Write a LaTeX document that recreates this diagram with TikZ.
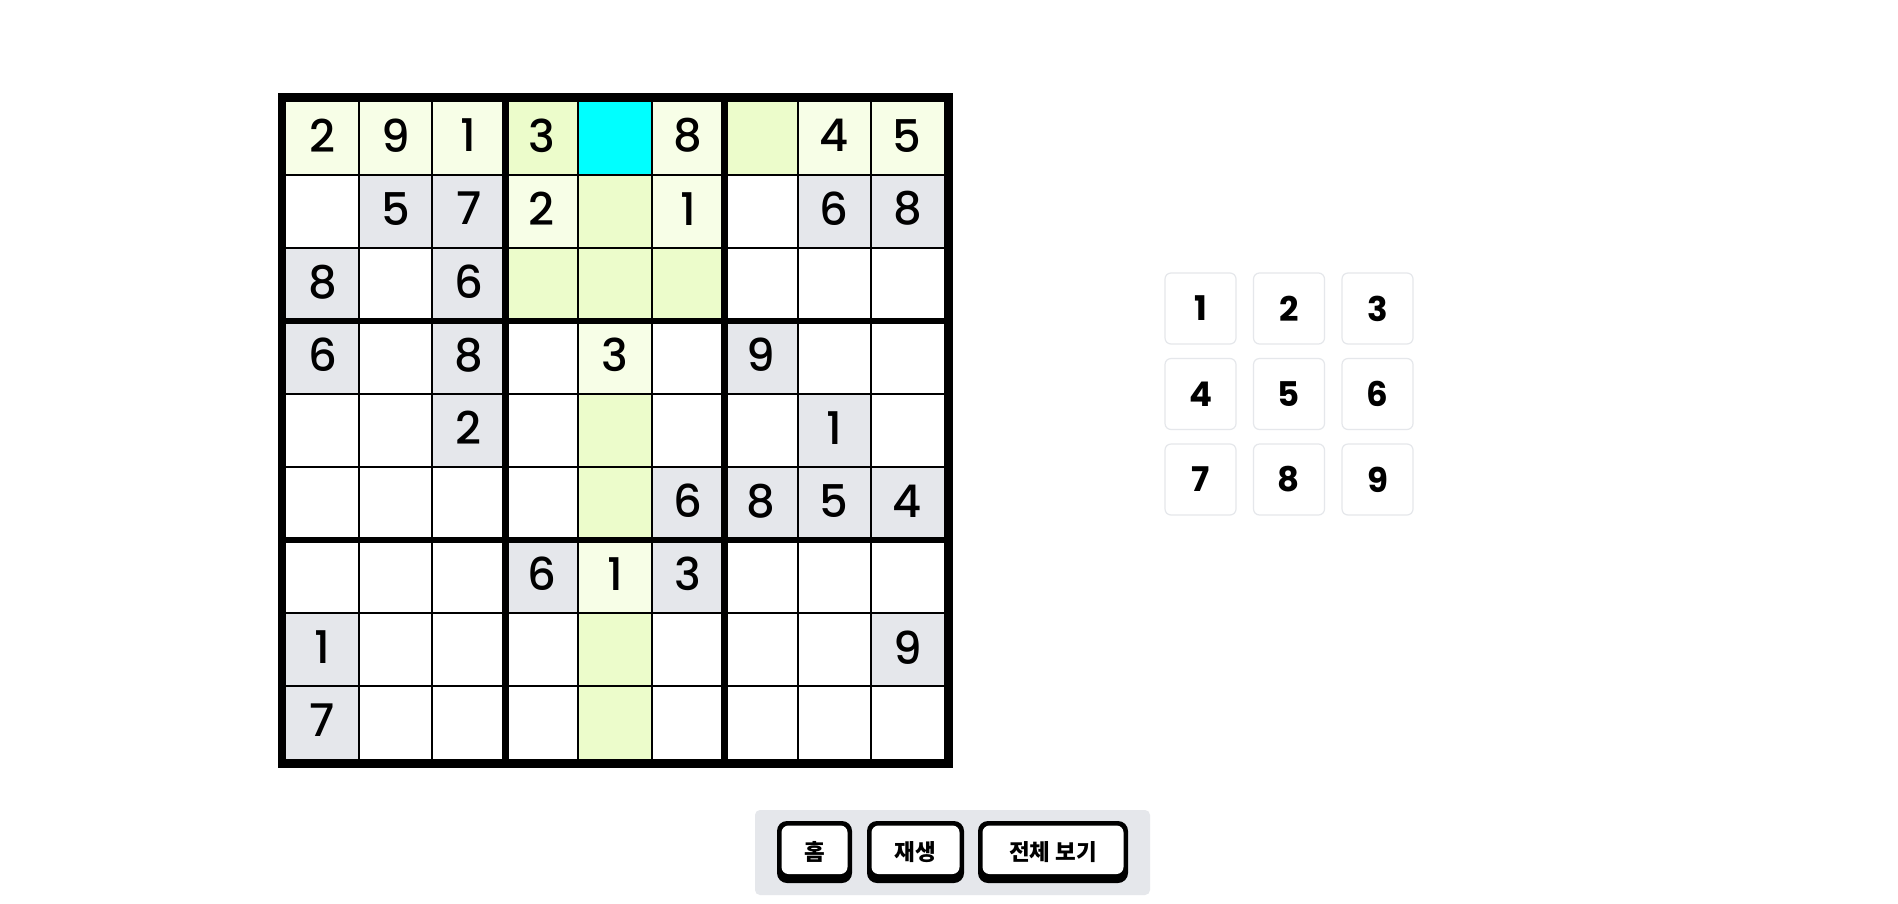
\documentclass[tikz,border=0pt]{standalone}
\usepackage{fontspec}
\setmainfont{Noto Sans CJK KR}
\newfontfamily\digitfont{Poppins Medium}
\newfontfamily\keyfont{Poppins Bold}
\definecolor{rowhl}{HTML}{F7FEE7}
\definecolor{emptyhl}{HTML}{ECFCCB}
\definecolor{given}{HTML}{E5E7EB}
\definecolor{selcell}{HTML}{00FFFF}
\tikzset{
  cellnum/.style={font=\digitfont\fontsize{45}{48}\selectfont, inner sep=0pt},
  padkey/.style={draw=given, line width=1.2pt, rounded corners=6pt, minimum size=71pt,
    inner sep=0pt, font=\keyfont\fontsize{34}{36}\selectfont},
  btnlabel/.style={font=\bfseries\fontsize{22.5}{26}\selectfont, inner sep=0pt}
}
\begin{document}
\begin{tikzpicture}[x=1pt,y=-1pt]
    \useasboundingbox (0,0) rectangle (1898,903);
    \fill[white] (0,0) rectangle (1898,903);
    \foreach \r/\c in {0/0,0/1,0/2,0/5,0/7,0/8,1/3,1/5,3/4,6/4}
    \fill[rowhl] ({286+73.1*\c},{101.5+73.1*\r}) rectangle ++(73.1,73.1);
    \foreach \r/\c in {0/3,0/6,1/4,2/3,2/4,2/5,4/4,5/4,7/4,8/4}
    \fill[emptyhl] ({286+73.1*\c},{101.5+73.1*\r}) rectangle ++(73.1,73.1);
    \foreach \r/\c in {1/1,1/2,1/7,1/8,2/0,2/2,3/0,3/2,3/6,4/2,4/7,5/5,5/6,5/7,5/8,6/3,6/5,7/0,7/8,8/0}
    \fill[given] ({286+73.1*\c},{101.5+73.1*\r}) rectangle ++(73.1,73.1);
    \fill[selcell] ({286+73.1*4},101.5) rectangle ++(73.1,73.1);
    \foreach \i in {1,2,4,5,7,8} {
      \draw[line width=2pt] ({286+73.1*\i},101.5)--({286+73.1*\i},759.4);
      \draw[line width=2pt] (286,{101.5+73.1*\i})--(944,{101.5+73.1*\i});
    }
    \foreach \i in {3,6} {
      \draw[line width=6.5pt] ({286+73.1*\i},101.5)--({286+73.1*\i},759.4);
      \draw[line width=6.5pt] (286,{101.5+73.1*\i})--(944,{101.5+73.1*\i});
    }
    \draw[line width=8.5pt] (282,97.25) rectangle (948.5,763.25);
    \foreach \r/\c/\d in {0/0/2,0/1/9,0/2/1,0/3/3,0/5/8,0/7/4,0/8/5,
      1/1/5,1/2/7,1/3/2,1/5/1,1/7/6,1/8/8,2/0/8,2/2/6,
      3/0/6,3/2/8,3/4/3,3/6/9,4/2/2,4/7/1,5/5/6,5/6/8,5/7/5,5/8/4,
      6/3/6,6/4/1,6/5/3,7/0/1,7/8/9,8/0/7}
    \node[cellnum] (n\r\c) at ({286+73.1*(\c+0.5)},{101.5+73.1*(\r+0.5)-2.5}) {\d};
    \foreach \row in {0,1,2}
    \foreach \col in {0,1,2} {
      \pgfmathtruncatemacro\k{3*\row+\col+1}
      \node[padkey] (key\k) at ({1200.5+88.5*\col},{308.5+85.5*\row}) {\k};
    }
    \fill[given, rounded corners=5pt] (755,810) rectangle (1150,895);
    \foreach \l/\rr/\name/\txt in {777/852/home/홈,867/964/replay/재생,978/1128/viewall/전체 보기} {
      \fill[black, rounded corners=10pt] (\l,821) rectangle (\rr,883);
      \fill[white, rounded corners=7pt] (\l+4.5,825.5) rectangle (\rr-4.5,874);
      \node[btnlabel] (\name) at ({(\l+\rr)/2},852) {\txt};
    }
\end{tikzpicture}
\end{document}
